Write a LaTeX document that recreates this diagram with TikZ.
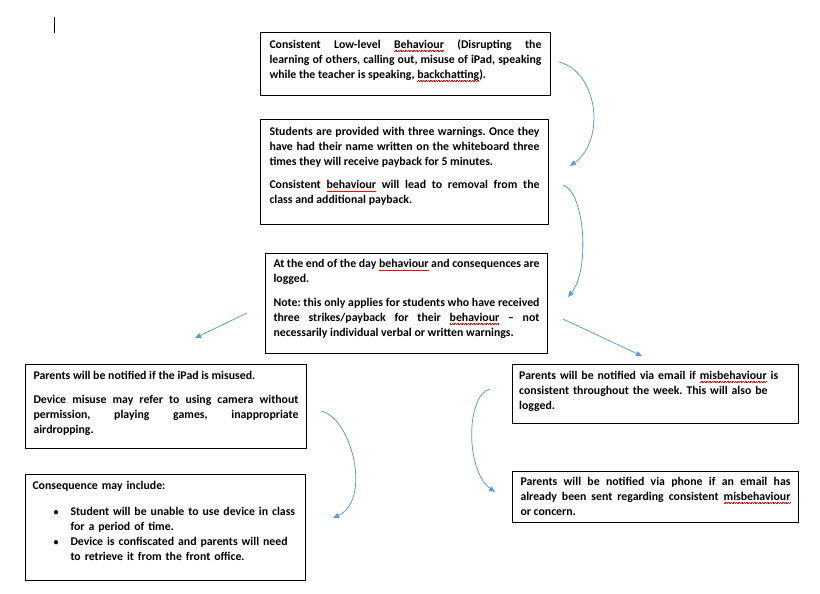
\documentclass[tikz,border=0pt]{standalone}
\usepackage{fontspec}
\setmainfont{Carlito}
\usetikzlibrary{arrows.meta}

\definecolor{wordblue}{RGB}{91,155,213}
% red spell-check squiggle under a word
\newcommand\spell[1]{\setbox0\hbox{#1}\rlap{\color{red}\xleaders\hbox{\rule[-2.9pt]{0.8pt}{0.45pt}\rule[-2.4pt]{0.8pt}{0.45pt}}\hskip\wd0}\box0\relax}
\newcommand\paragap{\par\vspace{8.5pt}}
\newcommand\itemdot{\leavevmode\llap{{\fontsize{10}{10}\selectfont\textbullet}\hspace{12pt}}}
\frenchspacing

\begin{document}
\begin{tikzpicture}[x=1pt,y=-1pt,
  note/.style={draw,line width=1pt,anchor=north west,inner ysep=0pt,align=justify,
    font=\fontsize{11.8}{15}\selectfont\bfseries},
  flow/.style={wordblue,line width=0.8pt,-{Triangle[length=6pt,width=5pt]}}]
  \useasboundingbox (0,0) rectangle (820,594);
  \draw[line width=0.6pt] (54,17) -- (54,33);

  \node[note,inner xsep=9pt,text width=272pt,text height=15.7pt,text depth=47.3pt] (low) at (260,32)
    {Consistent Low-level \spell{Behaviour} (Disrupting the\linebreak
     learning of others, calling out, misuse of iPad, speaking\linebreak
     while the teacher is speaking, \spell{backchatting}).};
  \node[note,inner xsep=9pt,text width=270pt,text height=15.7pt,text depth=89pt] (warn) at (260,119.3)
    {Students are provided with three warnings. Once they\linebreak
     have had their name written on the whiteboard three\linebreak
     times they will receive payback for 5 minutes.\paragap
     Consistent \spell{behaviour} will lead to removal from the\linebreak
     class and additional payback.};
  \node[note,inner xsep=8pt,text width=266pt,text height=14pt,text depth=85.7pt] (log) at (265,253.3)
    {At the end of the day \spell{behaviour} and consequences are\linebreak
     logged.\paragap
     Note: this only applies for students who have received\linebreak
     three strikes/payback for their \spell{behaviour} – not\linebreak
     necessarily individual verbal or written warnings.};
  \node[note,inner xsep=8pt,text width=265pt,text height=15pt,text depth=69pt] (ipad) at (25,364)
    {Parents will be notified if the iPad is misused.\paragap
     Device misuse may refer to using camera without\linebreak
     permission, playing games, inappropriate\linebreak
     airdropping.};
  \node[note,inner xsep=7pt,text width=272pt,text height=15pt,text depth=44.3pt,align=left] (email) at (511.7,364)
    {Parents will be notified via email if \spell{misbehaviour} is\newline
     consistent throughout the week. This will also be\newline
     logged.};
  \node[note,inner xsep=7pt,text width=266pt,text height=15pt,text depth=91pt,align=left] (cons) at (25,474)
    {Consequence may include:\par\vspace{10.5pt}
     {\leftskip=38pt\relax
      \itemdot Student will be unable to use device in class\newline
      for a period of time.\par
      \itemdot Device is confiscated and parents will need\newline
      to retrieve it from the front office.\par}};
  \node[note,inner xsep=8pt,text width=270pt,text height=14pt,text depth=36.7pt] (phone) at (512,471)
    {Parents will be notified via phone if an email has\linebreak
     already been sent regarding consistent \spell{misbehaviour}\linebreak
     or concern.};

  % arrow ends beside the boxes
  \coordinate (a1) at (559,62);   \coordinate (b1) at (570,166);
  \coordinate (a2) at (563,185);  \coordinate (b2) at (568,297);
  \coordinate (a3) at (247,313);  \coordinate (b3) at (195,338);
  \coordinate (a4) at (563,319);  \coordinate (b4) at (642,356);
  \coordinate (a5) at (321,411);  \coordinate (b5) at (333,518);
  \coordinate (a6) at (490,389);  \coordinate (b6) at (495,492);

  \draw[flow] (a1) .. controls (598,72) and (606,140) .. (b1);
  \draw[flow] (a2) .. controls (585,192) and (590,270) .. (b2);
  \draw[flow] (a3) -- (b3);
  \draw[flow] (a4) -- (b4);
  \draw[flow] (a5) .. controls (352,418) and (372,500) .. (b5);
  \draw[flow] (a6) .. controls (466,395) and (465,470) .. (b6);
\end{tikzpicture}
\end{document}
